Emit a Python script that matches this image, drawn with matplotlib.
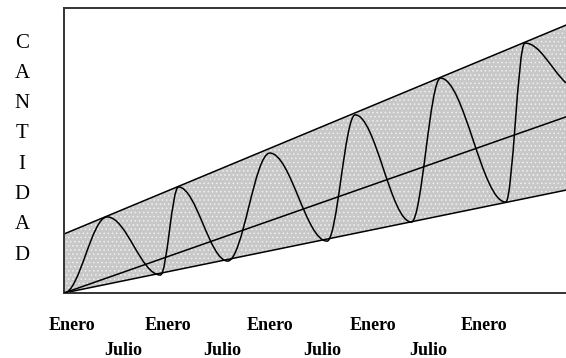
import numpy as np
import matplotlib.pyplot as plt
from matplotlib.path import Path
from matplotlib.patches import PathPatch

# x in years from start, y in "cantidad" (0-100)
band_x = [0.0, 5.0]
upper_y = [20.7, 94.0]
lower_y = [0.0, 36.1]
trend_y = [0.0, 61.8]

# turning points of the seasonal curve (troughs / peaks), plus the end at the border
wave_x = [0.0, 0.43, 0.96, 1.14, 1.63, 2.05, 2.62, 2.90, 3.46, 3.75, 4.40, 4.59, 5.0]
wave_y = [0.0, 26.7, 6.3, 37.2, 11.2, 49.1, 18.2, 62.5, 24.9, 75.4, 31.9, 87.7, 73.7]

enero_x = [0.08, 1.04, 2.05, 3.08, 4.18]
julio_x = [0.59, 1.58, 2.57, 3.63]
ylabel = "CANTIDAD"

serif = ["Liberation Serif", "DejaVu Serif"]
plt.rcParams["hatch.linewidth"] = 0.6

fig = plt.figure(figsize=(5.66, 3.58), dpi=100)
ax = fig.add_axes([64 / 566, 65 / 358, 1 - 64 / 566, 285 / 358])
ax.set_xlim(0, 5)
ax.set_ylim(0, 100)

# shaded band
ax.fill_between(band_x, lower_y, upper_y, facecolor="#c8c8c8", edgecolor="#f0f0f0",
                hatch="....", linewidth=0, zorder=1)
ax.plot(band_x, upper_y, color="black", lw=1.1, zorder=2)
ax.plot(band_x, lower_y, color="black", lw=1.1, zorder=2)
ax.plot(band_x, trend_y, color="black", lw=1.1, zorder=2)

# smooth curve through the turning points (flat tangent at each peak/trough)
k = 0.363
verts = [(wave_x[0], wave_y[0])]
codes = [Path.MOVETO]
for i in range(len(wave_x) - 1):
    x0, y0, x1, y1 = wave_x[i], wave_y[i], wave_x[i + 1], wave_y[i + 1]
    dx = x1 - x0
    c2 = (x1 - k * dx, y1) if i < len(wave_x) - 2 else (x1 - k * dx, y1 + (y0 - y1) * 0.35)
    verts += [(x0 + k * dx, y0), c2, (x1, y1)]
    codes += [Path.CURVE4] * 3
ax.add_patch(PathPatch(Path(verts, codes), facecolor="none", edgecolor="black",
                       lw=1.1, zorder=3, clip_on=True))

for s in ["left", "top", "bottom"]:
    ax.spines[s].set_linewidth(1.4)
    ax.spines[s].set_color("#333333")
ax.spines["right"].set_visible(False)

ax.set_yticks([])
ax.set_xticks(enero_x)
ax.set_xticklabels(["Enero"] * len(enero_x))
ax.set_xticks(julio_x, minor=True)
ax.set_xticklabels(["Julio"] * len(julio_x), minor=True)
ax.tick_params(axis="x", which="major", length=0, pad=17)
ax.tick_params(axis="x", which="minor", length=0, pad=35)
for lab in ax.get_xticklabels(which="both"):
    lab.set_family(serif)
    lab.set_fontweight("bold")
    lab.set_fontsize(13)

for i, ch in enumerate(ylabel):
    fig.text(22 / 566, 1 - (43 + i * 30.3) / 358, ch, family=serif, fontsize=15,
             ha="center", va="center")

fig.savefig("out.png", dpi=100)
